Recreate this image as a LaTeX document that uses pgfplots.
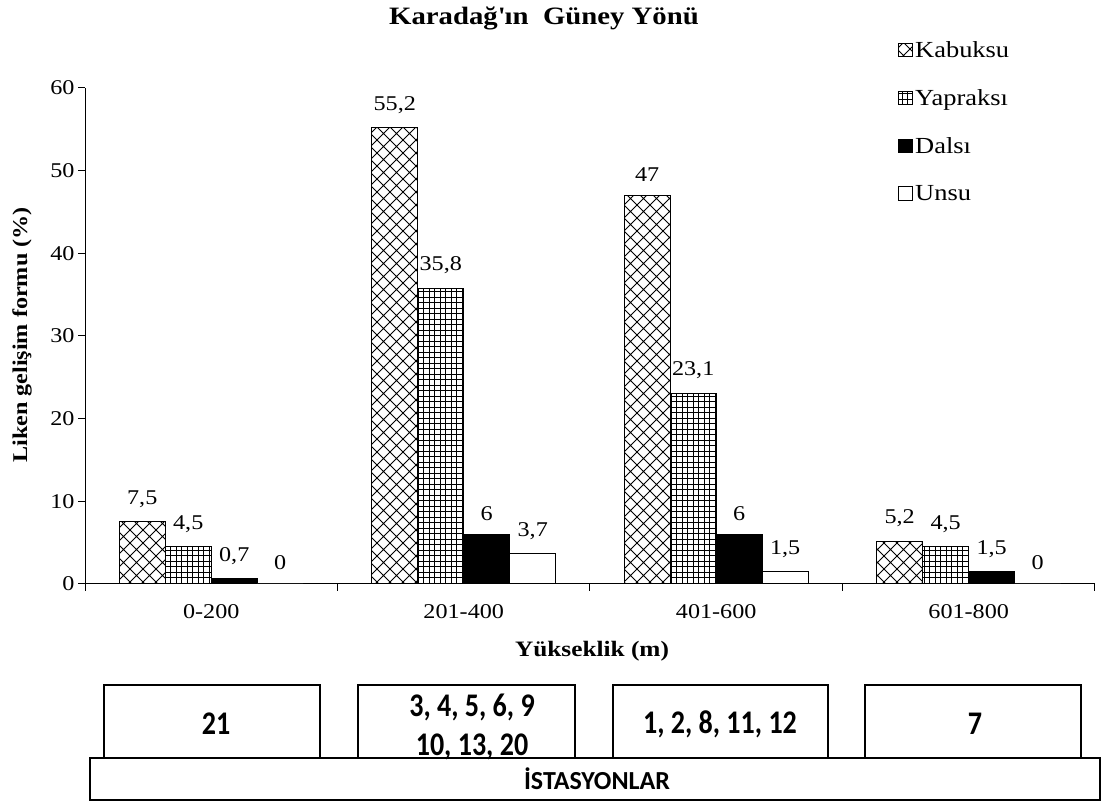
\documentclass[border=0pt]{standalone}
\usepackage{fontspec}
\setmainfont{Liberation Serif}[FakeStretch=1.15]
\newfontfamily\calibri{Carlito}
\newfontfamily\calibrinarrow{Carlito}[FakeStretch=0.85]
\usepackage{pgfplots}
\pgfplotsset{compat=1.18}
\usetikzlibrary{patterns}

\pgfdeclarepatternformonly{bigx}{\pgfqpoint{-1pt}{-1pt}}{\pgfqpoint{14pt}{14pt}}{\pgfqpoint{13pt}{13pt}}{%
 \pgfsetlinewidth{0.9pt}%
 \pgfpathmoveto{\pgfqpoint{0pt}{0pt}}\pgfpathlineto{\pgfqpoint{13pt}{13pt}}%
 \pgfpathmoveto{\pgfqpoint{0pt}{13pt}}\pgfpathlineto{\pgfqpoint{13pt}{0pt}}%
 \pgfusepath{stroke}}
\pgfdeclarepatternformonly{smallgrid}{\pgfqpoint{-1pt}{-1pt}}{\pgfqpoint{6.5pt}{6.5pt}}{\pgfqpoint{5.5pt}{5.5pt}}{%
 \pgfsetlinewidth{0.9pt}%
 \pgfpathmoveto{\pgfqpoint{0pt}{0pt}}\pgfpathlineto{\pgfqpoint{5.5pt}{0pt}}%
 \pgfpathmoveto{\pgfqpoint{0pt}{0pt}}\pgfpathlineto{\pgfqpoint{0pt}{5.5pt}}%
 \pgfusepath{stroke}}

\newcommand{\fs}{\fontsize{21}{23}\selectfont}
\pgfplotsset{mylegend/.style={legend image code/.code={\draw[##1, draw=black, line width=1pt] (0pt,-6.5pt) rectangle (14pt,7pt);}}}

\begin{document}
\begin{tikzpicture}
\useasboundingbox (0pt,0pt) rectangle (1102pt,803pt);
\begin{axis}[
  at={(85pt,219pt)}, anchor=south west,
  scale only axis, width=1010pt, height=496pt,
  xmin=-0.5, xmax=3.5, ymin=0, ymax=60,
  axis x line*=bottom, axis y line*=left,
  axis line style={-, line width=1pt},
  ybar, bar width=46pt,
  xtick={0,1,2,3}, xticklabels={0-200,201-400,401-600,601-800},
  major x tick style={draw=none},
  minor xtick={-0.5,0.5,1.5,2.5,3.5},
  minor tick length=7pt,
  ytick={0,10,20,30,40,50,60},
  major tick length=7pt,
  tick style={line width=1pt, black},
  tick align=outside,
  ticklabel style={font=\fs},
  /pgf/number format/assume math mode=true,
  /pgf/number format/use comma,
  xticklabel style={yshift=-10pt},
  nodes near coords,
  every node near coord/.append style={font=\fs, yshift=10pt, black},
  legend style={at={(0.802,1.102)}, anchor=north west, draw=none, fill=none,
    font=\fontsize{23}{24}\selectfont, row sep=26.5pt, legend cell align=left,
    /tikz/every even column/.append style={column sep=0pt}},
]
\addplot[draw=black, line width=1pt, pattern=bigx, bar shift=-69pt, mylegend] coordinates {(0,7.5) (1,55.2) (2,47) (3,5.2)};
\addplot[draw=black, line width=1pt, pattern=smallgrid, bar shift=-23pt, mylegend] coordinates {(0,4.5) (1,35.8) (2,23.1) (3,4.5)};
\addplot[draw=black, line width=1pt, fill=black, bar shift=23pt, mylegend] coordinates {(0,0.7) (1,6) (2,6) (3,1.5)};
\addplot[draw=black, line width=1pt, fill=white, bar shift=69pt, mylegend] coordinates {(0,0) (1,3.7) (2,1.5) (3,0)};
\legend{Kabuksu,Yapraksı,Dalsı,Unsu}
\end{axis}
\node[font=\fontsize{25}{27}\selectfont\bfseries] at (544pt,785pt) {Karadağ\textquotesingle ın\ \ Güney Yönü};
\node[font=\fontsize{21}{23}\selectfont\bfseries, rotate=90] at (22pt,468pt) {Liken gelişim formu (\%)};
\node[font=\fontsize{22}{24}\selectfont\bfseries] at (592pt,152pt) {Yükseklik (m)};
\draw[line width=1.2pt] (104pt,45pt) rectangle (320pt,118pt);
\draw[line width=1.2pt] (358pt,45pt) rectangle (575pt,118pt);
\draw[line width=1.2pt] (613pt,45pt) rectangle (828pt,118pt);
\draw[line width=1.2pt] (865pt,45pt) rectangle (1081pt,118pt);
\draw[line width=1.2pt] (90pt,3pt) rectangle (1100pt,45pt);
\begin{scope}[every node/.style={font=\calibrinarrow\bfseries\fontsize{33}{39}\selectfont, align=center}]
\node at (216pt,79pt) {21};
\node at (472pt,76pt) {3, 4, 5, 6, 9\\10, 13, 20};
\node at (720pt,79pt) {1, 2, 8, 11, 12};
\node at (975pt,79pt) {7};
\end{scope}
\node[font=\calibri\bfseries\fontsize{26}{30}\selectfont] at (597pt,24pt) {İSTASYONLAR};
\end{tikzpicture}
\end{document}
